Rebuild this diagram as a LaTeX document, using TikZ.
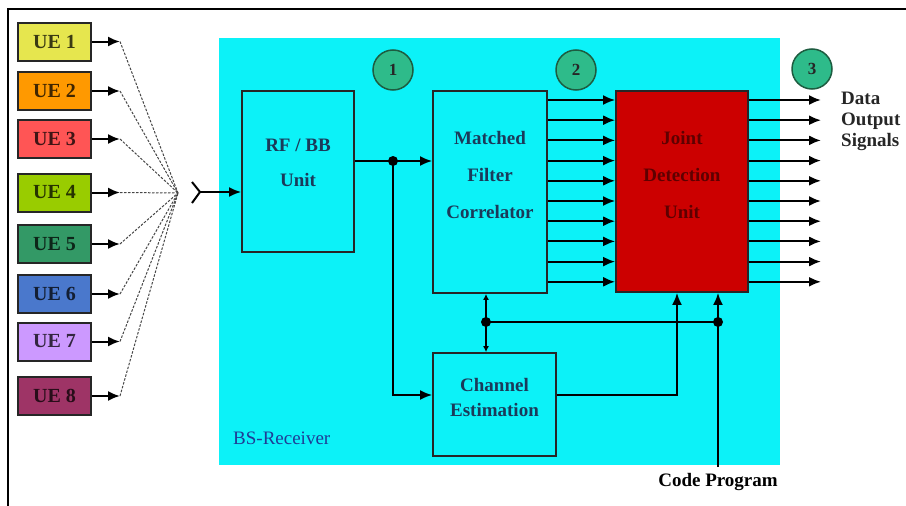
\documentclass[tikz,border=0pt]{standalone}
\usepackage{fontspec}
\setmainfont{Liberation Serif}
\usepackage{tikz}
\usetikzlibrary{arrows.meta}
\usetikzlibrary{calc}
\usepackage{xcolor}

\definecolor{bscyan}{HTML}{0CF2F8}
\definecolor{jdred}{HTML}{CC0000}
\definecolor{jdtext}{HTML}{5E0000}
\definecolor{boxtext}{HTML}{1B3A5A}
\definecolor{rxblue}{HTML}{1F3C96}
\definecolor{stagegreen}{HTML}{2EBB8A}
\definecolor{stageline}{HTML}{1D5C40}
\definecolor{ueA}{HTML}{E6E64E}
\definecolor{ueB}{HTML}{FF9900}
\definecolor{ueC}{HTML}{FF5555}
\definecolor{ueD}{HTML}{99CC00}
\definecolor{ueE}{HTML}{339966}
\definecolor{ueF}{HTML}{4A78CC}
\definecolor{ueG}{HTML}{CC99FF}
\definecolor{ueH}{HTML}{9E3466}

\begin{document}
\begin{tikzpicture}[x=1pt,y=-1pt,
	blk/.style={draw=black!85,line width=1.8pt,inner sep=0pt},
	lbl/.style={font=\bfseries\fontsize{19}{37}\selectfont,text=boxtext,align=center,inner sep=0pt},
	uebox/.style={draw=black!85,line width=2pt,minimum width=73pt,minimum height=38pt,inner sep=0pt,font=\bfseries\fontsize{20}{22}\selectfont},
	sig/.style={line width=2pt,-{Latex[length=12pt,width=10pt]}},
	tiny/.style={line width=2pt,-{Latex[length=6pt,width=6pt]}},
	stage/.style={circle,draw=stageline,fill=stagegreen,line width=1.5pt,minimum size=40pt,inner sep=0pt,text=black!85,font=\bfseries\fontsize{17}{18}\selectfont},
	air/.style={gray!55!black,line width=1pt,dash pattern=on 2.5pt off 1.5pt}]
	
	\useasboundingbox (0,0) rectangle (906,506);
	
	% receiver area and frame
	\fill[bscyan] (219,38) rectangle (780,465);
	\draw[line width=2pt] (8,506) -- (8,9) -- (906,9);
	
	% user equipments and air links
	\coordinate (fan) at (178,193);
	\foreach \n/\y/\c in {1/41.5/ueA,2/91/ueB,3/139/ueC,4/192.5/ueD,5/244/ueE,6/294/ueF,7/341.5/ueG,8/396/ueH} {
		\node[uebox,fill=\c,text=\c!25!black] (ue\n) at (54.5,\y) {UE \n};
		\coordinate (tip\n) at (120,\y);
		\draw[sig] (ue\n) -- (tip\n);
		\draw[air] (tip\n) -- (fan);
	}
	
	% blocks
	\node[blk,minimum width=112pt,minimum height=161pt] (rf) at (298,171.5) {};
	\node[lbl,text depth=0pt] (rftxt) at (298,163) {RF / BB\\[-2pt]Unit};
	\node[blk,minimum width=114pt,minimum height=202pt] (mf) at (490,192) {};
	\node[lbl] (mftxt) at (490,175) {Matched\\Filter\\Correlator};
	\node[blk,fill=jdred,minimum width=132pt,minimum height=201pt] (jdu) at (682,191.5) {};
	\node[lbl,text=jdtext] (jdtxt) at (682,175) {Joint\\Detection\\Unit};
	\node[blk,minimum width=123pt,minimum height=103pt] (ce) at (494.5,404.5) {};
	\node[lbl,font=\bfseries\fontsize{19}{25}\selectfont] (cetxt) at (494.5,397) {Channel\\Estimation};
	
	% stage markers
	\node[stage] (s1) at (393,70) {1};
	\node[stage] (s2) at (576,70) {2};
	\node[stage] (s3) at (812,69) {3};
	
	% antenna into rf unit
	\coordinate (ant) at (200,192);
	\draw[line width=2pt] (192,182) -- (ant) -- (192,203);
	\draw[sig] (ant) -- (ant -| rf.west);
	
	% rf unit to filter and estimator
	\coordinate (br) at (393,161);
	\draw[sig] (rf.east |- br) -- (br -| mf.west);
	\draw[sig] (br) |- ([yshift=9.5pt]ce.west);
	\fill (br) circle (5);
	
	% parallel branches
	\foreach \i in {0,...,9} {
		\coordinate (r\i) at (0,{100+20.2*\i});
		\coordinate (o\i) at (821,{100+20.2*\i});
		\draw[sig] (r\i -| mf.east) -- (r\i -| jdu.west);
		\draw[sig] (r\i -| jdu.east) -- (o\i);
	}
	
	% estimator to joint detection
	\draw[sig] ([yshift=9.5pt]ce.east) -| ([xshift=-5pt]jdu.south);
	
	% code program feed
	\node[font=\bfseries\fontsize{19}{22}\selectfont,inner sep=6pt] (code) at (718,482) {Code Program};
	\coordinate (cj) at (718,322);
	\coordinate (cm) at (486,322);
	\draw[sig] (code.north) -- (code.north |- jdu.south);
	\draw[line width=2pt] (cj) -- (cm);
	\draw[tiny] (cm) -- (cm |- mf.south);
	\draw[tiny] (cm) -- (cm |- ce.north);
	\fill (cj) circle (5);
	\fill (cm) circle (5);
	
	% texts
	\node[anchor=west,align=left,inner sep=0pt,font=\bfseries\fontsize{19}{21}\selectfont,text=black!85] (out) at (841,121) {Data\\Output\\Signals};
	\node[anchor=west,inner sep=0pt,text=rxblue,font=\fontsize{19}{22}\selectfont] (rx) at (233,438) {BS-Receiver};
	
\end{tikzpicture}
\end{document}
